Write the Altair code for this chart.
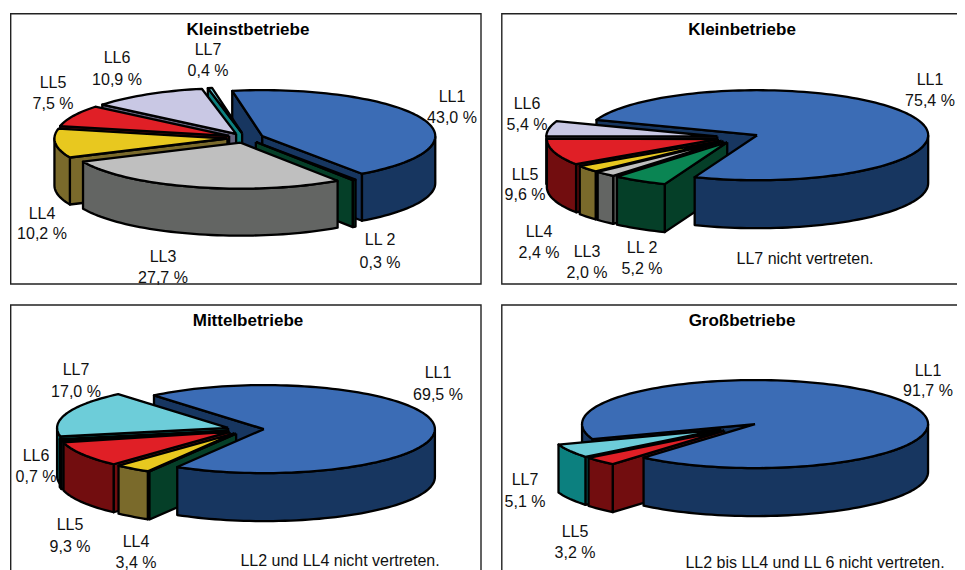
import math
import altair as alt
import pandas as pd

# ---------- data ----------
titles = ["Kleinstbetriebe", "Kleinbetriebe", "Mittelbetriebe", "Großbetriebe"]
cats_1 = ["LL1", "LL 2", "LL3", "LL4", "LL5", "LL6", "LL7"]
vals_1 = [43.0, 0.3, 27.7, 10.2, 7.5, 10.9, 0.4]
cats_2 = ["LL1", "LL 2", "LL3", "LL4", "LL5", "LL6"]
vals_2 = [75.4, 5.2, 2.0, 2.4, 9.6, 5.4]
cats_3 = ["LL1", "LL 2", "LL4", "LL5", "LL6", "LL7"]
vals_3 = [69.5, 0.0, 3.4, 9.3, 0.7, 17.0]
cats_4 = ["LL1", "LL5", "LL7"]
vals_4 = [91.7, 3.2, 5.1]
notes = ["", "LL7 nicht vertreten.", "LL2 und LL4 nicht vertreten.", "LL2 bis LL4  und LL 6 nicht vertreten."]

# ---------- styling and layout ----------
TOP = {"LL1": "#3b6cb5", "LL 2": "#0a8553", "LL3": "#bfbfbf", "LL4": "#e8c81f",
       "LL5": "#e01f26", "LL6": "#c9c8e4", "LL7": "#6dcdd9"}
WALL = {"LL1": "#173660", "LL 2": "#053f28", "LL3": "#636563", "LL4": "#7a6a2b",
        "LL5": "#720d0f", "LL6": "#66647f", "LL7": "#0c807f"}
# centre x, centre y, rx, ry, depth, explosion, start angle
GEOM = [(245.5, 138, 173, 46, 47, 0.105, -10),
        (738, 137.5, 171, 45, 48, 0.123, -70),
        (245.5, 429.5, 171, 44, 48, 0.108, -40),
        (738.6, 427, 173, 44, 48, 0.116, -110)]
FRAMES = [(10.7, 481, 13.8, 284), (501.8, 985, 13.8, 284),
          (10.7, 481, 305, 590), (501.8, 985, 305, 590)]
TITLE_POS = [(248, 30), (742, 30), (248, 321), (742, 321)]
NOTE_POS = [(0, 0), (805, 259), (340, 561), (815, 563)]
LABEL_POS = [
    {"LL1": (452, 97, 118), "LL 2": (380, 240, 263), "LL3": (163, 257, 278), "LL4": (42, 214, 234),
     "LL5": (53, 83, 104), "LL6": (117, 58, 80), "LL7": (208, 50, 71)},
    {"LL1": (930, 80, 101), "LL 2": (642, 248, 269), "LL3": (587, 252, 273), "LL4": (539, 232, 253),
     "LL5": (525, 175, 195), "LL6": (527, 104, 125)},
    {"LL1": (438, 373, 395), "LL4": (136, 542, 563), "LL5": (70, 525, 547),
     "LL6": (36, 456, 477), "LL7": (76, 370, 392)},
    {"LL1": (928, 371, 391), "LL5": (575, 532, 553), "LL7": (525, 480, 502)},
]

panels = [(cats_1, vals_1), (cats_2, vals_2), (cats_3, vals_3), (cats_4, vals_4)]

polys = []
texts = []
pid = 0


def add_poly(points, color):
    global pid
    pts = points + [points[0]]
    for i, (px, py) in enumerate(pts):
        polys.append({"px": px, "py": py, "poly": pid, "seq": i, "fill": color})
    pid += 1


def arc(a, b):
    n = max(2, int(abs(b - a) / 2) + 2)
    return [a + (b - a) * i / (n - 1) for i in range(n)]


for k, (cats, vals) in enumerate(panels):
    cx, cy, rx, ry, depth, ex, start = GEOM[k]
    total = sum(vals)
    t = start
    slices = []
    for c, v in zip(cats, vals):
        span = 360.0 * v / total
        slices.append((c, t, t + span))
        t += span

    def apex(t1, t2):
        m = math.radians((t1 + t2) / 2)
        return cx + ex * rx * math.sin(m), cy - ex * ry * math.cos(m)

    def rim(ax, ay, a, drop=0.0):
        r = math.radians(a)
        return (ax + rx * math.sin(r), ay - ry * math.cos(r) + drop)

    def faces(t1, t2, c):
        ax, ay = apex(t1, t2)
        for a, visible in ((t1, math.sin(math.radians(t1)) < 0), (t2, math.sin(math.radians(t2)) > 0)):
            if visible:
                p = rim(ax, ay, a)
                add_poly([(ax, ay), p, (p[0], p[1] + depth), (ax, ay + depth)], WALL[c])

    def wall(t1, t2, c, shift):
        ax, ay = apex(t1, t2)
        lo, hi = max(t1 + shift, 90), min(t2 + shift, 270)
        if hi > lo:
            angles = arc(lo, hi)
            add_poly([rim(ax, ay, a) for a in angles] + [rim(ax, ay, a, depth) for a in reversed(angles)], WALL[c])

    def top(t1, t2, c):
        ax, ay = apex(t1, t2)
        add_poly([(ax, ay)] + [rim(ax, ay, a) for a in arc(t1, t2)], TOP[c])

    # the large LL1 slice: inner faces and left wall behind everything, front wall and top in front
    c0, a0, b0 = slices[0]
    faces(a0, b0, c0)
    wall(a0, b0, c0, 360)
    rest = sorted(slices[1:], key=lambda s: -math.cos(math.radians((s[1] + s[2]) / 2)))
    for c, t1, t2 in rest:
        faces(t1, t2, c)
        wall(t1, t2, c, 0)
        wall(t1, t2, c, 360)
        top(t1, t2, c)
    wall(a0, b0, c0, 0)
    top(a0, b0, c0)

    for c, v in zip(cats, vals):
        if c in LABEL_POS[k]:
            lx, y1, y2 = LABEL_POS[k][c]
            texts.append({"tx": lx, "ty": y1, "t": c})
            texts.append({"tx": lx, "ty": y2, "t": f"{v:.1f} %".replace(".", ",")})
    if notes[k]:
        texts.append({"tx": NOTE_POS[k][0], "ty": NOTE_POS[k][1], "t": notes[k]})

X = alt.Scale(domain=[8, 957], nice=False, zero=False)
Y = alt.Scale(domain=[570, 8], nice=False, zero=False)

frames = alt.Chart(pd.DataFrame(FRAMES, columns=["a", "b", "c", "d"])).mark_rect(
    fillOpacity=0, stroke="#222222", strokeWidth=1.4, clip=True
).encode(
    x=alt.X("a:Q", scale=X, axis=None), x2="b:Q",
    y=alt.Y("c:Q", scale=Y, axis=None), y2="d:Q",
)

shapes = alt.Chart(pd.DataFrame(polys)).mark_line(
    stroke="#000000", strokeWidth=2.3, strokeJoin="round", interpolate="linear", filled=True
).encode(
    x=alt.X("px:Q", scale=X, axis=None),
    y=alt.Y("py:Q", scale=Y, axis=None),
    detail="poly:N",
    order="seq:Q",
    fill=alt.Fill("fill:N", scale=None),
    stroke=alt.value("#000000"),
)

labels = alt.Chart(pd.DataFrame(texts)).mark_text(
    font="Liberation Sans", fontSize=16, color="#111111", align="center", baseline="middle"
).encode(
    x=alt.X("tx:Q", scale=X, axis=None),
    y=alt.Y("ty:Q", scale=Y, axis=None),
    text="t:N",
)

title_df = pd.DataFrame({"t": titles, "tx": [p[0] for p in TITLE_POS], "ty": [p[1] for p in TITLE_POS]})
heads = alt.Chart(title_df).mark_text(
    font="Liberation Sans", fontSize=17, fontWeight="bold", color="#000000", align="center", baseline="middle"
).encode(
    x=alt.X("tx:Q", scale=X, axis=None),
    y=alt.Y("ty:Q", scale=Y, axis=None),
    text="t:N",
)

chart = alt.layer(frames, shapes, labels, heads).properties(
    width=949, height=562, padding=0, background="#ffffff",
    autosize=alt.AutoSizeParams(type="none"),
).configure_view(stroke=None)

chart.save("out.html", embed_options={"renderer": "svg", "actions": False})
